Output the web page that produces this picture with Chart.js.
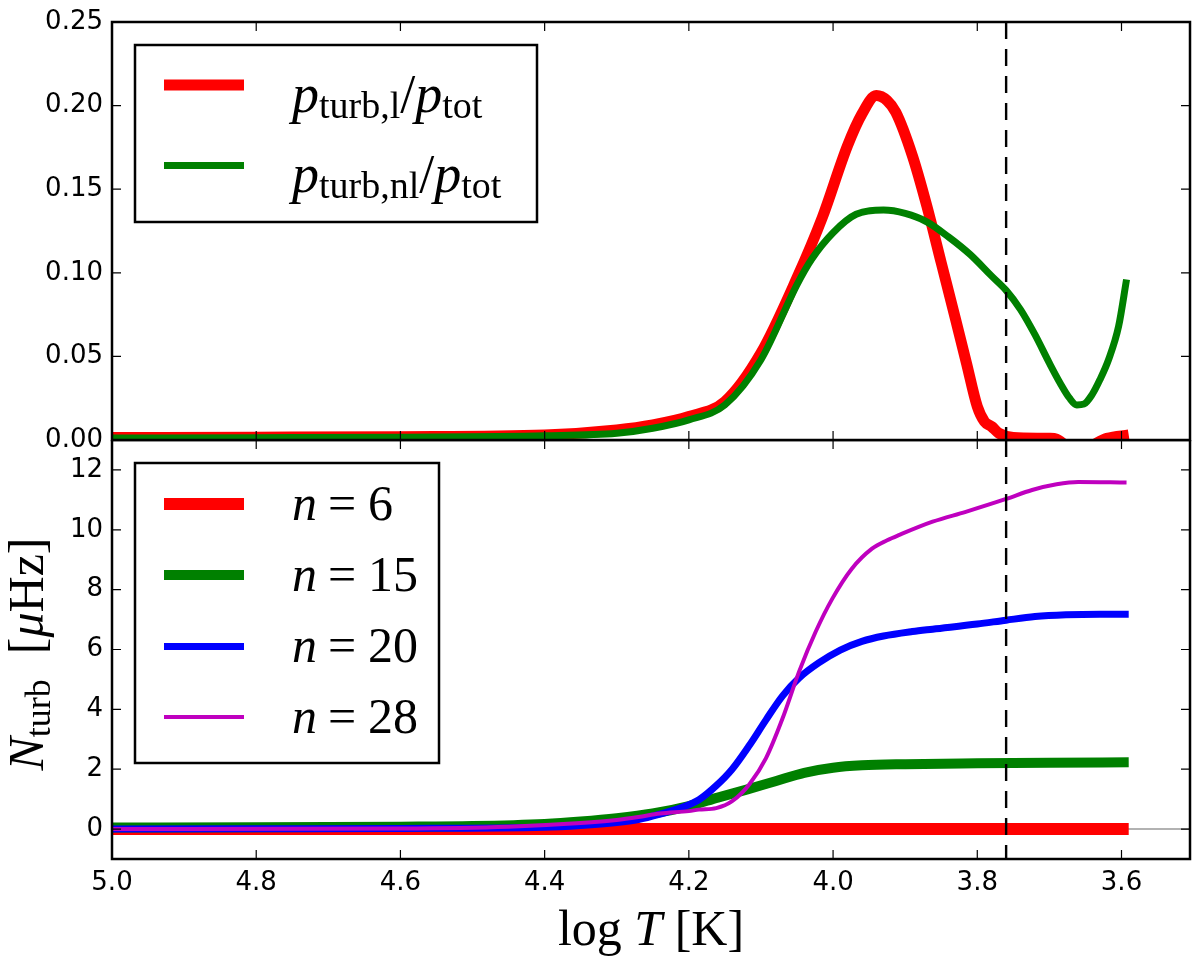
<!DOCTYPE html>
<html>
<head>
<meta charset="utf-8">
<title>p_turb and N_turb vs log T</title>
<script src="https://cdn.jsdelivr.net/npm/chart.js@4.4.1/dist/chart.umd.min.js"></script>
<style>
  html, body { margin: 0; padding: 0; background: #fff; }
  #wrap { position: relative; width: 1200px; height: 961px; }
  #wrap canvas { position: absolute; left: 0; }
  #bottomPanel { top: 440px; }
  #topPanel { top: 0; }
</style>
</head>
<body>
<div id="wrap">
  <canvas id="bottomPanel" width="1200" height="521"></canvas>
  <canvas id="topPanel" width="1200" height="470"></canvas>
</div>
<script>
// ---- eixos / ticks ----
const xTicks = [5.0, 4.8, 4.6, 4.4, 4.2, 4.0, 3.8, 3.6];
const xMin = 3.505, xMax = 5.0;
const yTicksTop = [0, 0.05, 0.10, 0.15, 0.20, 0.25];
const yTicksBottom = [0, 2, 4, 6, 8, 10, 12];
const tDashed = 3.76;

// ---- painel de cima: p_turb / p_tot ----
const tTurbL = [5.0, 4.8, 4.6, 4.4, 4.3, 4.25, 4.2, 4.15, 4.1, 4.05, 4.015, 3.98, 3.96, 3.94, 3.925, 3.913, 3.89, 3.87, 3.85, 3.83, 3.815, 3.80, 3.79, 3.78, 3.77, 3.75, 3.70, 3.69, 3.675, 3.65, 3.635, 3.62, 3.59];
const pTurbL = [0.0015, 0.0017, 0.002, 0.003, 0.006, 0.009, 0.014, 0.023, 0.052, 0.097, 0.133, 0.176, 0.195, 0.206, 0.203, 0.196, 0.170, 0.140, 0.106, 0.072, 0.046, 0.020, 0.011, 0.008, 0.004, 0.0015, 0.001, 0.0005, -0.004, -0.006, -0.002, 0.001, 0.003];

const tTurbNL = [5.0, 4.8, 4.6, 4.4, 4.3, 4.25, 4.2, 4.15, 4.1, 4.05, 4.03, 4.0, 3.968, 3.93, 3.9, 3.87, 3.84, 3.81, 3.78, 3.76, 3.74, 3.72, 3.70, 3.685, 3.672, 3.662, 3.652, 3.641, 3.63, 3.618, 3.604, 3.593];
const pTurbNL = [0.0012, 0.0014, 0.0017, 0.0025, 0.004, 0.007, 0.012, 0.021, 0.048, 0.093, 0.108, 0.124, 0.135, 0.1375, 0.1355, 0.1305, 0.1215, 0.111, 0.098, 0.0895, 0.078, 0.063, 0.046, 0.034, 0.025, 0.021, 0.0215, 0.027, 0.036, 0.048, 0.068, 0.096];

// ---- painel de baixo: N_turb [uHz] ----
const tN6 = [5.0, 4.6, 4.2, 3.8, 3.59];
const nTurb6 = [0.0, 0.0, 0.0, 0.0, 0.0];

const tN15 = [5.0, 4.8, 4.6, 4.5, 4.4, 4.35, 4.3, 4.25, 4.2, 4.16, 4.12, 4.08, 4.04, 4.0, 3.96, 3.9, 3.8, 3.7, 3.59];
const nTurb15 = [0.05, 0.06, 0.08, 0.1, 0.17, 0.25, 0.36, 0.52, 0.77, 1.05, 1.32, 1.6, 1.88, 2.05, 2.13, 2.17, 2.2, 2.22, 2.23];

const tN20 = [5.0, 4.8, 4.6, 4.4, 4.35, 4.3, 4.27, 4.24, 4.21, 4.186, 4.162, 4.14, 4.116, 4.093, 4.07, 4.047, 4.02, 3.99, 3.96, 3.93, 3.89, 3.862, 3.8, 3.76, 3.72, 3.677, 3.63, 3.59];
const nTurb20 = [0.0, 0.01, 0.02, 0.06, 0.12, 0.22, 0.32, 0.5, 0.72, 0.98, 1.45, 2.0, 2.8, 3.65, 4.45, 5.05, 5.55, 5.98, 6.27, 6.45, 6.6, 6.68, 6.85, 6.98, 7.1, 7.16, 7.18, 7.18];

const tN28 = [5.0, 4.6, 4.45, 4.35, 4.3, 4.27, 4.24, 4.2, 4.186, 4.162, 4.14, 4.116, 4.093, 4.07, 4.047, 4.024, 4.001, 3.974, 3.946, 3.925, 3.908, 3.862, 3.816, 3.76, 3.724, 3.69, 3.66, 3.593];
const nTurb28 = [0.0, 0.02, 0.08, 0.2, 0.3, 0.4, 0.52, 0.6, 0.65, 0.7, 0.93, 1.5, 2.37, 3.7, 5.27, 6.6, 7.7, 8.7, 9.37, 9.65, 9.83, 10.27, 10.6, 11.03, 11.33, 11.52, 11.6, 11.58];

const RED = '#ff0000', GREEN = '#008000', BLUE = '#0000ff', MAGENTA = '#bf00bf';
const SERIF = '"Liberation Serif", "Times New Roman", serif';

function pts(ts, vs) {
    return ts.map((t, i) => ({ x: t, y: vs[i] }));
}

function linha(data, color, width, order) {
    return {
        data: data, borderColor: color, borderWidth: width, order: order,
        pointRadius: 0, fill: false, cubicInterpolationMode: 'monotone',
        borderCapStyle: 'butt', borderJoinStyle: 'round'
    };
}

// texto "matematico": partes com estilo/tamanho/deslocamento
function larguraRich(ctx, parts) {
    let w = 0;
    parts.forEach(p => {
        ctx.font = (p.it ? 'italic ' : '') + p.size + 'px ' + SERIF;
        w += ctx.measureText(p.t).width;
    });
    return w;
}

function drawRich(ctx, x, y, parts) {
    ctx.fillStyle = '#000';
    ctx.textBaseline = 'alphabetic';
    ctx.textAlign = 'left';
    parts.forEach(p => {
        ctx.font = (p.it ? 'italic ' : '') + p.size + 'px ' + SERIF;
        ctx.fillText(p.t, x, y + (p.dy || 0));
        x += ctx.measureText(p.t).width;
    });
}

function drawFrame(chart, yTicks) {
    const ctx = chart.ctx, a = chart.chartArea;
    const x = chart.scales.x, y = chart.scales.y;
    ctx.save();
    ctx.strokeStyle = '#000';
    ctx.lineWidth = 1.2;
    ctx.beginPath();
    xTicks.forEach(v => {
        const px = x.getPixelForValue(v);
        ctx.moveTo(px, a.bottom); ctx.lineTo(px, a.bottom - 9);
        ctx.moveTo(px, a.top); ctx.lineTo(px, a.top + 9);
    });
    yTicks.forEach(v => {
        const py = y.getPixelForValue(v);
        ctx.moveTo(a.left, py); ctx.lineTo(a.left + 9, py);
        ctx.moveTo(a.right, py); ctx.lineTo(a.right - 9, py);
    });
    ctx.stroke();
    ctx.lineWidth = 2.5;
    ctx.strokeRect(a.left, a.top, a.right - a.left, a.bottom - a.top);
    ctx.restore();
}

function drawDashed(chart) {
    const ctx = chart.ctx, a = chart.chartArea;
    const px = chart.scales.x.getPixelForValue(tDashed);
    ctx.save();
    ctx.strokeStyle = '#000';
    ctx.lineWidth = 2.4;
    ctx.setLineDash([17, 10]);
    ctx.beginPath();
    ctx.moveTo(px, a.top);
    ctx.lineTo(px, a.bottom);
    ctx.stroke();
    ctx.restore();
}

function legendBox(ctx, x0, y0, x1, y1) {
    ctx.fillStyle = '#fff';
    ctx.fillRect(x0, y0, x1 - x0, y1 - y0);
    ctx.strokeStyle = '#000';
    ctx.lineWidth = 2.5;
    ctx.strokeRect(x0, y0, x1 - x0, y1 - y0);
}

function handle(ctx, color, width, y) {
    ctx.strokeStyle = color;
    ctx.lineWidth = width;
    ctx.lineCap = 'butt';
    ctx.beginPath();
    ctx.moveTo(164, y);
    ctx.lineTo(244, y);
    ctx.stroke();
}

function eixoX(visivel) {
    const eixo = {
        type: 'linear', reverse: true, min: xMin, max: xMax, display: visivel,
        afterBuildTicks: s => { s.ticks = xTicks.map(v => ({ value: v })); },
        afterFit: s => {
            if (visivel) s.height = 102;
            s.paddingLeft = 0; s.paddingRight = 0;
        },
        grid: { display: false, drawTicks: false },
        border: { display: false },
        ticks: {
            font: { family: 'DejaVu Sans', size: 26 }, color: '#000', padding: 9,
            maxRotation: 0, autoSkip: false, callback: v => v.toFixed(1)
        }
    };
    return eixo;
}

function eixoY(min, max, ticks, casas) {
    return {
        type: 'linear', min: min, max: max,
        afterBuildTicks: s => { s.ticks = ticks.map(v => ({ value: v })); },
        afterFit: s => {
            s.width = 112;
            s.paddingTop = 0; s.paddingBottom = 0;
        },
        grid: { display: false, drawTicks: false },
        border: { display: false },
        ticks: {
            font: { family: 'DejaVu Sans', size: 26 }, color: '#000', padding: 9,
            autoSkip: false, callback: v => v.toFixed(casas)
        }
    };
}

// ---- grafico de cima ----
const pluginTopo = {
    id: 'painelTopo',
    afterDatasetsDraw(chart) {
        drawDashed(chart);
        drawFrame(chart, yTicksTop);
        const ctx = chart.ctx;
        ctx.save();
        legendBox(ctx, 135, 45, 537, 222);
        handle(ctx, RED, 11, 85);
        handle(ctx, GREEN, 7, 165.5);
        drawRich(ctx, 292, 112, [
            { t: 'p', it: true, size: 54 }, { t: 'turb,l', size: 38, dy: 6 },
            { t: '/', size: 54 }, { t: 'p', it: true, size: 54 }, { t: 'tot', size: 38, dy: 6 }
        ]);
        drawRich(ctx, 292, 192, [
            { t: 'p', it: true, size: 54 }, { t: 'turb,nl', size: 38, dy: 6 },
            { t: '/', size: 54 }, { t: 'p', it: true, size: 54 }, { t: 'tot', size: 38, dy: 6 }
        ]);
        ctx.restore();
    }
};

new Chart(document.getElementById('topPanel'), {
    type: 'line',
    data: {
        datasets: [
            linha(pts(tTurbL, pTurbL), RED, 11, 2),
            linha(pts(tTurbNL, pTurbNL), GREEN, 7, 1)
        ]
    },
    options: {
        responsive: false, animation: false, devicePixelRatio: 1,
        layout: { autoPadding: false, padding: { top: 22, right: 10, bottom: 30, left: 0 } },
        plugins: { legend: { display: false }, tooltip: { enabled: false } },
        scales: { x: eixoX(false), y: eixoY(0, 0.25, yTicksTop, 2) }
    },
    plugins: [pluginTopo]
});

// ---- grafico de baixo ----
const pluginBaixo = {
    id: 'painelBaixo',
    beforeDatasetsDraw(chart) {
        const ctx = chart.ctx, a = chart.chartArea;
        const py = chart.scales.y.getPixelForValue(0);
        ctx.save();
        ctx.strokeStyle = '#999';
        ctx.lineWidth = 1.6;
        ctx.beginPath();
        ctx.moveTo(a.left, py);
        ctx.lineTo(a.right, py);
        ctx.stroke();
        ctx.restore();
    },
    afterDatasetsDraw(chart) {
        drawDashed(chart);
        drawFrame(chart, yTicksBottom);
        const ctx = chart.ctx;
        ctx.save();
        legendBox(ctx, 135, 23, 439, 323);
        const linhas = [
            { c: RED, w: 12, n: '6' }, { c: GREEN, w: 10, n: '15' },
            { c: BLUE, w: 7, n: '20' }, { c: MAGENTA, w: 4, n: '28' }
        ];
        const hy = [64, 135, 206.5, 277];
        linhas.forEach((l, i) => {
            handle(ctx, l.c, l.w, hy[i]);
            drawRich(ctx, 292, hy[i] + 15.5, [{ t: 'n', it: true, size: 50 }]);
            drawRich(ctx, 328, hy[i] + 15.5, [{ t: '=', size: 50 }]);
            drawRich(ctx, 368, hy[i] + 15.5, [{ t: l.n, size: 50 }]);
        });

        // titulo do eixo x
        const partesX = [
            { t: 'log', size: 50 }, { t: ' ', size: 50 }, { t: 'T', it: true, size: 50 },
            { t: ' [K]', size: 50 }
        ];
        const a = chart.chartArea;
        const wx = larguraRich(ctx, partesX);
        drawRich(ctx, (a.left + a.right) / 2 - wx / 2, 505, partesX);

        // titulo do eixo y (rotacionado)
        const partesY = [
            { t: 'N', it: true, size: 50 }, { t: 'turb', size: 36, dy: 7 },
            { t: '  [', size: 50 }, { t: '\u03bc', it: true, size: 50 }, { t: 'Hz]', size: 50 }
        ];
        const wy = larguraRich(ctx, partesY);
        ctx.translate(43, 214);
        ctx.rotate(-Math.PI / 2);
        drawRich(ctx, -wy / 2, 0, partesY);
        ctx.restore();
    }
};

new Chart(document.getElementById('bottomPanel'), {
    type: 'line',
    data: {
        datasets: [
            linha(pts(tN6, nTurb6), RED, 12, 4),
            linha(pts(tN15, nTurb15), GREEN, 10, 3),
            linha(pts(tN20, nTurb20), BLUE, 7, 2),
            linha(pts(tN28, nTurb28), MAGENTA, 4, 1)
        ]
    },
    options: {
        responsive: false, animation: false, devicePixelRatio: 1,
        layout: { autoPadding: false, padding: { top: 0, right: 10, bottom: 0, left: 0 } },
        plugins: { legend: { display: false }, tooltip: { enabled: false } },
        scales: { x: eixoX(true), y: eixoY(-1, 13, yTicksBottom, 0) }
    },
    plugins: [pluginBaixo]
});
</script>
</body>
</html>
